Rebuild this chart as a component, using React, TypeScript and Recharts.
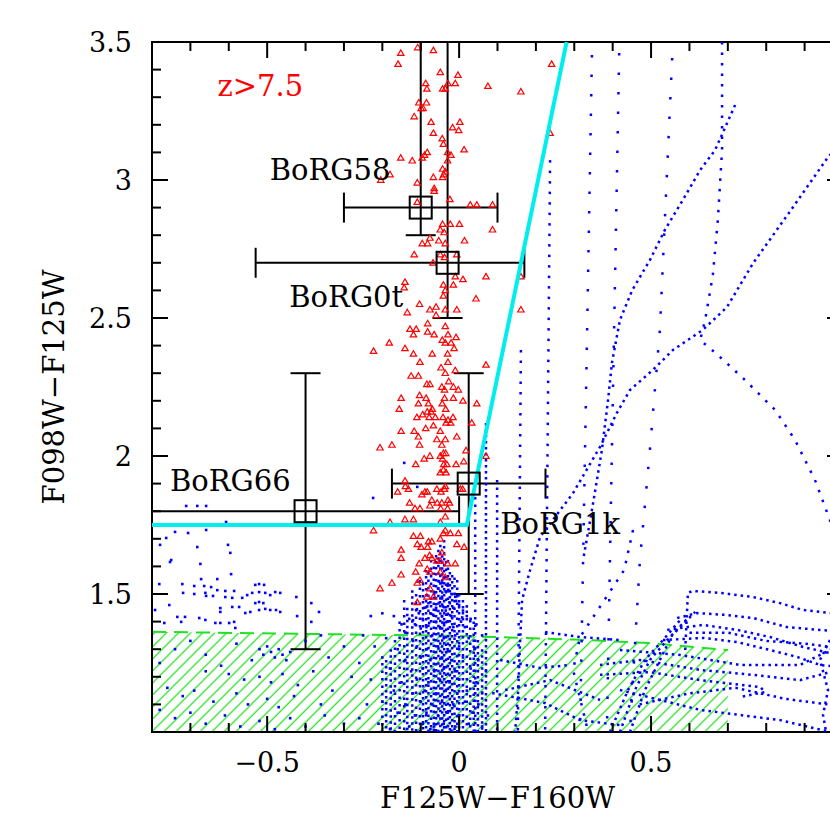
import React from "react";
import { Area, ComposedChart, ErrorBar, ReferenceArea, Scatter, XAxis, YAxis } from "recharts";

const FONT = "'DejaVu Serif', serif";
const BLUE = "#0000ff";
const RED = "#ff0000";
const CYAN = "#00eeee";
const GREEN = "#22e022";

const W = 860;
const H = 830;
const M = { top: 42, right: 17, bottom: 0, left: 0 };
const Y_AXIS_W = 152;
const X_AXIS_H = 98;
const PLOT_W = W - M.left - M.right - Y_AXIS_W;
const PLOT_H = H - M.top - M.bottom - X_AXIS_H;

const X_TICKS = [-0.8, -0.7, -0.6, -0.5, -0.4, -0.3, -0.2, -0.1, 0, 0.1, 0.2, 0.3, 0.4, 0.5, 0.6, 0.7, 0.8, 0.9, 1.0];
const Y_TICKS = [1.0, 1.1, 1.2, 1.3, 1.4, 1.5, 1.6, 1.7, 1.8, 1.9, 2.0, 2.1, 2.2, 2.3, 2.4, 2.5, 2.6, 2.7, 2.8, 2.9, 3.0, 3.1, 3.2, 3.3, 3.4, 3.5];

// contaminant region (hatched)
const HATCH_X = [-0.8, 0.0, 0.3, 0.5, 0.7];
const HATCH_TOP = [1.363, 1.348, 1.335, 1.322, 1.297];

// selection cut
const CUT = [[-0.8, 1.75], [0.02, 1.75], [0.28, 3.5]];

// candidates (errors run off the frame where the reference shows no cap)
const OBJ_X = [-0.10, -0.03, -0.40, 0.025];
const OBJ_Y = [2.90, 2.70, 1.80, 1.90];
const OBJ_XERR = [[0.2, 0.2], [0.5, 0.2], [0.4, 0.4], [0.2, 0.2]];
const OBJ_YERR = [[0.1, 0.6], [0.2, 0.8], [0.5, 0.5], [0.4, 0.4]];

const LABEL_TEXT = ["z>7.5", "BoRG58", "BoRG0t", "BoRG66", "BoRG1k"];
const LABEL_X = [-0.518, -0.336, -0.294, -0.596, 0.263];
const LABEL_Y = [3.341, 3.036, 2.576, 1.909, 1.754];

// simulated z>7.5 galaxies
const RED_TRI = [
  [-0.152, 3.46], [-0.108, 3.48], [-0.067, 3.47], [-0.159, 3.42], [-0.049, 3.39], [-0.003, 3.38], [-0.029, 3.35], [-0.01, 3.35],
  [0.075, 3.34], [0.161, 3.32], [-0.087, 3.35], [-0.084, 3.33], [-0.043, 3.33], [-0.036, 3.33], [-0.085, 3.28], [-0.105, 3.28],
  [-0.094, 3.26], [-0.099, 3.26], [-0.117, 3.23], [-0.073, 3.21], [0.002, 3.21], [-0.017, 3.19], [-0.001, 3.18], [-0.067, 3.17],
  [-0.044, 3.15], [-0.041, 3.13], [0.013, 3.11], [-0.083, 3.1], [-0.09, 3.09], [-0.096, 3.08], [-0.03, 3.1], [-0.021, 3.09],
  [-0.152, 3.08], [-0.122, 3.07], [-0.03, 3.07], [-0.043, 3.04], [-0.036, 3.03], [-0.04, 3.02], [-0.18, 3.02], [-0.067, 3.01],
  [-0.043, 3.01], [-0.109, 2.99], [-0.065, 2.97], [-0.065, 2.96], [-0.204, 3.0], [-0.109, 2.92], [-0.024, 2.93], [0.029, 2.91],
  [0.046, 2.91], [0.087, 2.91], [-0.043, 2.84], [-0.023, 2.84], [0.001, 2.84], [-0.049, 2.82], [-0.039, 2.81], [0.087, 2.82],
  [-0.076, 2.79], [-0.053, 2.78], [-0.096, 2.77], [-0.082, 2.77], [-0.036, 2.77], [0.014, 2.78], [-0.117, 2.73], [-0.049, 2.73],
  [-0.038, 2.72], [-0.006, 2.73], [-0.068, 2.7], [-0.01, 2.65], [0.01, 2.64], [0.07, 2.65], [0.161, 2.65], [-0.015, 2.62],
  [-0.041, 2.62], [-0.141, 2.63], [-0.143, 2.61], [-0.036, 2.6], [0.044, 2.57], [-0.041, 2.58], [-0.135, 2.52], [-0.103, 2.55],
  [-0.076, 2.53], [-0.06, 2.54], [-0.036, 2.53], [-0.006, 2.53], [-0.06, 2.51], [-0.082, 2.48], [-0.036, 2.47], [-0.128, 2.46],
  [-0.112, 2.46], [-0.119, 2.44], [-0.082, 2.45], [-0.065, 2.44], [-0.029, 2.44], [-0.008, 2.43], [-0.044, 2.42], [-0.036, 2.41],
  [-0.021, 2.41], [-0.013, 2.39], [-0.182, 2.41], [-0.223, 2.38], [-0.141, 2.39], [-0.119, 2.37], [-0.07, 2.37], [-0.03, 2.37],
  [-0.102, 2.34], [-0.029, 2.34], [-0.047, 2.32], [-0.036, 2.3], [-0.01, 2.31], [0.07, 2.33], [-0.125, 2.29], [-0.106, 2.29],
  [-0.027, 2.27], [-0.084, 2.26], [-0.076, 2.26], [-0.045, 2.25], [-0.038, 2.24], [-0.015, 2.25], [-0.002, 2.24], [-0.103, 2.22],
  [-0.038, 2.21], [-0.015, 2.21], [-0.151, 2.21], [-0.086, 2.21], [0.01, 2.2], [0.046, 2.19], [-0.106, 2.19], [-0.08, 2.19],
  [-0.07, 2.17], [-0.044, 2.19], [-0.035, 2.17], [-0.156, 2.17], [-0.095, 2.15], [-0.083, 2.16], [-0.073, 2.16], [-0.062, 2.14],
  [-0.11, 2.14], [-0.078, 2.14], [-0.042, 2.14], [-0.029, 2.13], [-0.016, 2.14], [-0.034, 2.12], [-0.022, 2.12], [-0.067, 2.11],
  [-0.087, 2.1], [0.033, 2.12], [-0.049, 2.09], [-0.151, 2.09], [-0.117, 2.09], [-0.106, 2.07], [-0.058, 2.06], [-0.036, 2.06],
  [-0.006, 2.07], [-0.175, 2.04], [-0.206, 2.03], [-0.103, 2.04], [-0.045, 2.04], [-0.041, 2.01], [-0.035, 2.01], [-0.076, 2.0],
  [-0.049, 2.0], [0.018, 2.02], [0.07, 2.0], [-0.091, 1.99], [-0.043, 1.99], [-0.113, 1.97], [-0.04, 1.97], [-0.032, 1.97],
  [-0.008, 1.97], [0.012, 1.98], [-0.049, 1.94], [-0.041, 1.95], [-0.034, 1.94], [-0.141, 1.91], [-0.132, 1.88], [-0.16, 1.87],
  [-0.14, 1.89], [-0.089, 1.87], [-0.083, 1.87], [-0.058, 1.88], [-0.047, 1.87], [-0.038, 1.88], [-0.036, 1.89], [0.003, 1.88],
  [0.009, 1.88], [-0.097, 1.86], [-0.129, 1.83], [-0.071, 1.84], [-0.057, 1.83], [-0.045, 1.83], [-0.029, 1.84], [-0.025, 1.83],
  [-0.076, 1.82], [-0.115, 1.81], [-0.102, 1.81], [-0.048, 1.81], [-0.03, 1.81], [-0.036, 1.78], [-0.141, 1.77], [-0.18, 1.76],
  [-0.223, 1.73], [-0.119, 1.77], [-0.049, 1.76], [-0.036, 1.73], [-0.041, 1.72], [-0.023, 1.72], [-0.002, 1.72], [-0.119, 1.71],
  [-0.101, 1.71], [-0.08, 1.69], [-0.071, 1.69], [-0.049, 1.7], [-0.109, 1.68], [-0.099, 1.67], [-0.082, 1.67], [-0.006, 1.68],
  [0.013, 1.67], [-0.045, 1.65], [-0.151, 1.66], [-0.077, 1.64], [-0.071, 1.63], [-0.089, 1.63], [-0.151, 1.63], [-0.049, 1.62],
  [-0.03, 1.61], [-0.01, 1.61], [-0.104, 1.61], [-0.058, 1.62], [-0.083, 1.59], [-0.076, 1.58], [-0.049, 1.58], [-0.151, 1.57],
  [-0.113, 1.58], [-0.036, 1.56], [-0.102, 1.55], [-0.175, 1.54], [-0.206, 1.52], [-0.109, 1.54], [-0.076, 1.52], [-0.084, 1.49],
  [-0.067, 1.49], [-0.109, 1.47], [0.241, 3.42], [0.237, 3.17], [0.161, 2.53],
];

// brown dwarfs / low-z contaminants, scattered points
const BLUE_CLOUD = [
  [-0.04, 1.56], [-0.045, 1.54], [-0.03, 1.53], [-0.055, 1.52], [-0.035, 1.51], [-0.02, 1.5], [-0.065, 1.5], [-0.045, 1.49],
  [-0.01, 1.49], [-0.075, 1.47], [-0.05, 1.47], [-0.025, 1.47], [0.0, 1.46], [-0.09, 1.45], [-0.06, 1.45], [-0.035, 1.44],
  [-0.015, 1.45], [0.01, 1.44], [-0.105, 1.43], [-0.075, 1.43], [-0.045, 1.42], [-0.02, 1.42], [0.02, 1.42], [-0.13, 1.41],
  [-0.095, 1.41], [-0.06, 1.4], [-0.03, 1.4], [0.005, 1.4], [0.03, 1.41], [-0.17, 1.42], [-0.2, 1.43], [-0.23, 1.42],
  [-0.15, 1.39], [-0.115, 1.39], [-0.085, 1.38], [-0.05, 1.38], [-0.015, 1.38], [0.015, 1.38], [0.045, 1.39],
  [-0.25, 1.35], [-0.19, 1.34], [-0.14, 1.36], [-0.12, 1.33], [-0.07, 1.35], [-0.04, 1.34], [-0.01, 1.35], [0.025, 1.34], [0.06, 1.35],
  [-0.22, 1.31], [-0.16, 1.3], [-0.11, 1.31], [-0.085, 1.3], [-0.055, 1.31], [-0.03, 1.3], [0.0, 1.31], [0.04, 1.3],
  [-0.2, 1.27], [-0.14, 1.26], [-0.1, 1.27], [-0.075, 1.26], [-0.045, 1.27], [-0.02, 1.26], [0.01, 1.27], [0.05, 1.26],
  [-0.18, 1.23], [-0.125, 1.22], [-0.095, 1.23], [-0.065, 1.22], [-0.04, 1.23], [-0.01, 1.22], [0.03, 1.23], [0.07, 1.22],
  [-0.23, 1.19], [-0.15, 1.18], [-0.11, 1.19], [-0.08, 1.18], [-0.05, 1.19], [-0.025, 1.18], [0.0, 1.19], [0.045, 1.18],
  [-0.17, 1.15], [-0.12, 1.14], [-0.09, 1.15], [-0.06, 1.14], [-0.035, 1.15], [-0.005, 1.14], [0.02, 1.15], [0.06, 1.14],
  [-0.2, 1.11], [-0.14, 1.1], [-0.1, 1.11], [-0.07, 1.1], [-0.045, 1.11], [-0.015, 1.1], [0.015, 1.11], [0.05, 1.1],
  [-0.16, 1.07], [-0.115, 1.06], [-0.085, 1.07], [-0.055, 1.06], [-0.03, 1.07], [0.0, 1.06], [0.035, 1.07], [0.075, 1.06],
  [-0.21, 1.03], [-0.13, 1.02], [-0.095, 1.03], [-0.065, 1.02], [-0.04, 1.03], [-0.01, 1.02], [0.025, 1.03], [0.06, 1.02],
  [-0.18, 1.01], [-0.075, 1.01], [-0.02, 1.005], [-0.224, 1.848], [-0.143, 1.975], [-0.109, 1.888],
  [-0.052, 1.545], [-0.028, 1.515], [-0.062, 1.485], [-0.008, 1.475], [-0.083, 1.455], [-0.042, 1.455], [-0.11, 1.445],
  [0.02, 1.455], [-0.068, 1.425], [-0.032, 1.425], [0.008, 1.415], [-0.12, 1.405], [-0.078, 1.395], [-0.04, 1.395], [-0.1, 1.375],
];

const BLUE_LEFT = [
  [-0.753, 1.616], [-0.674, 1.609], [-0.594, 1.572], [-0.63, 1.554], [-0.672, 1.554], [-0.721, 1.536], [-0.781, 1.536], [-0.69, 1.529],
  [-0.664, 1.529], [-0.646, 1.525], [-0.63, 1.514], [-0.609, 1.511], [-0.586, 1.511], [-0.719, 1.504], [-0.69, 1.5], [-0.661, 1.504],
  [-0.659, 1.493], [-0.641, 1.493], [-0.609, 1.489], [-0.591, 1.486], [-0.565, 1.486], [-0.552, 1.496], [-0.539, 1.504], [-0.531, 1.533],
  [-0.521, 1.536], [-0.508, 1.533], [-0.521, 1.507], [-0.505, 1.504], [-0.492, 1.496], [-0.479, 1.507], [-0.466, 1.504], [-0.424, 1.489],
  [-0.385, 1.467], [-0.365, 1.435], [-0.385, 1.399], [-0.422, 1.42], [-0.755, 1.46], [-0.792, 1.442], [-0.622, 1.449], [-0.622, 1.435],
  [-0.591, 1.453], [-0.573, 1.453], [-0.557, 1.431], [-0.544, 1.435], [-0.531, 1.467], [-0.521, 1.471], [-0.51, 1.467], [-0.521, 1.442],
  [-0.505, 1.446], [-0.492, 1.442], [-0.477, 1.442], [-0.466, 1.435], [-0.734, 1.417], [-0.714, 1.417], [-0.677, 1.413], [-0.661, 1.406],
  [-0.635, 1.395], [-0.622, 1.395], [-0.599, 1.395], [-0.586, 1.399], [-0.583, 1.377], [-0.768, 1.395], [-0.724, 1.399],
  [-0.682, 1.819], [-0.659, 1.819], [-0.711, 1.819], [-0.74, 1.725], [-0.706, 1.721], [-0.659, 1.732], [-0.682, 1.67], [-0.602, 1.678],
  [-0.596, 1.649], [-0.75, 1.623], [-0.763, 1.703], [-0.607, 1.761], [-0.779, 1.678],
  [-0.52, 1.3], [-0.5, 1.31], [-0.49, 1.29], [-0.47, 1.3], [-0.46, 1.28], [-0.51, 1.28], [-0.48, 1.27], [-0.44, 1.29], [-0.54, 1.26], [-0.45, 1.26],
  [-0.62, 1.24], [-0.66, 1.22], [-0.6, 1.21], [-0.56, 1.19], [-0.52, 1.2], [-0.49, 1.18], [-0.46, 1.21], [-0.42, 1.17], [-0.38, 1.22],
  [-0.76, 1.16], [-0.72, 1.13], [-0.69, 1.15], [-0.64, 1.11], [-0.58, 1.14], [-0.55, 1.1], [-0.5, 1.12], [-0.47, 1.09], [-0.43, 1.13],
  [-0.36, 1.1], [-0.33, 1.15], [-0.78, 1.08], [-0.74, 1.05], [-0.7, 1.07], [-0.66, 1.03], [-0.61, 1.06], [-0.57, 1.02], [-0.52, 1.04],
  [-0.48, 1.01], [-0.44, 1.05], [-0.4, 1.02], [-0.35, 1.06], [-0.3, 1.03], [-0.28, 1.2], [-0.3, 1.31], [-0.34, 1.27], [-0.26, 1.25],
  [-0.74, 1.3], [-0.7, 1.33], [-0.66, 1.28], [-0.78, 1.25], [-0.58, 1.32], [-0.4, 1.33], [-0.36, 1.35], [-0.24, 1.1], [-0.26, 1.05],
];

// vertical model columns in the contaminant cloud: [colour, top]
const CLOUD_COLUMNS = [
  [-0.143, 1.478], [-0.122, 1.514], [-0.102, 1.551], [-0.086, 1.587], [-0.073, 1.623], [-0.06, 1.641], [-0.049, 1.678], [-0.039, 1.696],
  [-0.029, 1.623], [-0.018, 1.569], [-0.005, 1.551], [0.01, 1.478], [0.029, 1.406], [0.049, 1.333], [-0.167, 1.333], [-0.19, 1.261],
  [0.042, 1.851], [0.07, 2.12], [0.099, 1.913],
  [-0.135, 1.45], [-0.112, 1.5], [-0.094, 1.54], [-0.08, 1.58], [-0.066, 1.6], [-0.054, 1.66], [-0.044, 1.64], [-0.034, 1.62],
  [-0.024, 1.58], [-0.012, 1.56], [0.0, 1.5], [0.02, 1.44], [0.038, 1.4], [-0.155, 1.4], [-0.178, 1.3], [-0.2, 1.25], [0.06, 1.3],
];

// stellar tracks, by dot spacing
const SPARSE_TRACKS = [
  [[0.346, 3.453], [0.328, 2.022], [0.315, 1.0]],
  [[0.417, 3.46], [0.398, 2.022], [0.385, 1.0]],
  [[0.555, 3.442], [0.523, 2.457], [0.497, 2.022], [0.471, 1.623], [0.445, 1.0]],
];

const MEDIUM_TRACKS = [
  [[0.161, 2.384], [0.153, 1.0]],
  [[0.237, 3.072], [0.224, 1.0]],
  [[0.685, 3.5], [0.685, 3.109], [0.674, 2.855], [0.661, 2.656], [0.641, 2.493], [0.628, 2.42], [0.674, 2.366], [0.745, 2.275],
    [0.823, 2.167], [0.875, 2.058], [0.927, 1.913], [0.966, 1.768], [1.005, 1.623]],
  [[0.453, 1.732], [0.43, 1.587], [0.315, 1.344], [0.297, 1.225], [0.333, 1.018]],
];

const DENSE_TRACKS = [
  [[0.719, 3.272], [0.667, 3.109], [0.628, 3.036], [0.583, 2.928], [0.536, 2.819], [0.497, 2.71], [0.451, 2.601], [0.419, 2.493],
    [0.398, 2.337], [0.388, 2.203], [0.372, 2.022], [0.346, 1.804], [0.323, 1.623]],
  [[1.005, 3.145], [0.961, 3.083], [0.87, 2.902], [0.766, 2.699], [0.698, 2.54], [0.635, 2.457], [0.557, 2.384], [0.505, 2.312],
    [0.445, 2.239], [0.411, 2.156], [0.367, 2.033], [0.297, 1.866], [0.211, 1.707], [0.185, 1.587], [0.164, 1.478], [0.159, 1.333],
    [0.154, 1.152], [0.146, 1.0]],
  [[0.589, 1.297], [0.596, 1.504], [0.609, 1.511], [0.68, 1.504], [0.766, 1.489], [0.836, 1.467], [0.896, 1.442], [0.966, 1.431], [1.018, 1.424]],
  [[0.568, 1.413], [0.62, 1.431], [0.698, 1.424], [0.766, 1.413], [0.854, 1.38], [0.94, 1.37], [1.018, 1.362]],
  [[0.542, 1.37], [0.635, 1.388], [0.724, 1.37], [0.81, 1.344], [0.896, 1.308], [0.966, 1.286], [1.018, 1.279]],
  [[0.531, 1.333], [0.635, 1.341], [0.724, 1.326], [0.81, 1.297], [0.88, 1.272], [0.94, 1.243], [1.018, 1.232]],
  [[0.393, 1.0], [0.44, 1.152], [0.484, 1.261], [0.531, 1.333], [0.576, 1.406]],
  [[0.419, 1.0], [0.458, 1.152], [0.497, 1.261], [0.542, 1.333], [0.596, 1.413]],
  [[0.445, 1.0], [0.484, 1.152], [0.523, 1.261], [0.555, 1.351], [0.615, 1.435]],
  [[0.367, 1.243], [0.471, 1.261], [0.628, 1.225], [0.766, 1.207], [0.888, 1.188], [0.966, 1.217], [1.018, 1.261]],
  [[0.367, 1.207], [0.497, 1.217], [0.628, 1.188], [0.784, 1.163], [0.797, 1.145], [0.732, 1.127]],
  [[0.419, 1.297], [0.576, 1.279], [0.732, 1.243], [0.888, 1.243], [0.966, 1.297], [1.018, 1.333]],
  [[0.966, 1.333], [0.94, 1.261], [0.961, 1.152], [0.948, 1.062], [0.956, 1.0]],
  [[0.419, 1.152], [0.628, 1.08], [0.836, 1.043], [0.966, 1.0]],
  [[0.224, 1.362], [0.315, 1.344], [0.419, 1.333]],
  [[0.086, 1.141], [0.224, 1.105], [0.315, 1.043], [0.419, 1.025]],
  [[0.107, 1.261], [0.211, 1.232], [0.289, 1.243]],
  [[0.12, 1.152], [0.237, 1.188], [0.367, 1.116]],
  [[0.6, 1.36], [0.7, 1.36], [0.8, 1.33], [0.9, 1.32], [1.018, 1.3]],
  [[0.47, 1.1], [0.6, 1.14], [0.72, 1.16], [0.85, 1.12], [0.96, 1.1]],
];

const pts = (rows: number[][]) => rows.map(([x, y]) => ({ x, y }));
const hatchData = HATCH_X.map((x, i) => ({ x, top: HATCH_TOP[i] }));
const objData = OBJ_X.map((x, i) => ({ x, y: OBJ_Y[i], xErr: OBJ_XERR[i], yErr: OBJ_YERR[i] }));
const labelData = LABEL_TEXT.map((text, i) => ({ x: LABEL_X[i], y: LABEL_Y[i], text }));
const columnLines = CLOUD_COLUMNS.map(([x, top]) => [[x, top], [x, 1.0]]);

const isMajor = (v: number) => Math.abs(v * 2 - Math.round(v * 2)) < 1e-6;
const fmt = (v: number) => String(Math.round(v * 10) / 10).replace("-", "\u2212");

function XTick(props: any) {
  const { x, y, payload } = props;
  const v = payload.value;
  const major = isMajor(v);
  const len = major ? 16 : 9;
  return (
    <g>
      <line x1={x} x2={x} y1={y} y2={y - len} stroke="#000" strokeWidth={2} />
      <line x1={x} x2={x} y1={y - PLOT_H} y2={y - PLOT_H + len} stroke="#000" strokeWidth={2} />
      {major && v < 0.99 && (
        <text x={x} y={y + 40} textAnchor="middle" fontFamily={FONT} fontSize={27} fill="#000">
          {fmt(v)}
        </text>
      )}
    </g>
  );
}

function YTick(props: any) {
  const { x, y, payload } = props;
  const v = payload.value;
  const major = isMajor(v);
  const len = major ? 16 : 9;
  return (
    <g>
      <line x1={x} x2={x + len} y1={y} y2={y} stroke="#000" strokeWidth={2} />
      <line x1={x + PLOT_W} x2={x + PLOT_W - len} y1={y} y2={y} stroke="#000" strokeWidth={2} />
      {major && v > 1.01 && (
        <text x={x - 20} y={y} dy={10} textAnchor="end" fontFamily={FONT} fontSize={27} fill="#000">
          {fmt(v)}
        </text>
      )}
    </g>
  );
}

function XTitle({ viewBox }: any) {
  const { x, y, width } = viewBox;
  return (
    <text x={x + width / 2} y={y + 76} textAnchor="middle" fontFamily={FONT} fontSize={29} fill="#000">
      F125W{"\u2212"}F160W
    </text>
  );
}

function YTitle({ viewBox }: any) {
  const { y, height } = viewBox;
  const cx = 64;
  const cy = y + height / 2;
  return (
    <text x={cx} y={cy} transform={`rotate(-90 ${cx} ${cy})`} textAnchor="middle" fontFamily={FONT} fontSize={29} fill="#000">
      F098W{"\u2212"}F125W
    </text>
  );
}

const Nothing = () => <g />;

function Dot(props: any) {
  const { cx, cy } = props;
  return <rect x={cx - 1.3} y={cy - 1.3} width={2.6} height={2.6} fill={BLUE} />;
}

function Tri(props: any) {
  const { cx, cy } = props;
  return <path d={`M${cx},${cy - 3.2} L${cx + 3.2},${cy + 2.3} L${cx - 3.2},${cy + 2.3} Z`} fill="none" stroke={RED} strokeWidth={1.2} />;
}

function Box(props: any) {
  const { cx, cy } = props;
  return <rect x={cx - 11} y={cy - 11} width={22} height={22} fill="none" stroke="#000" strokeWidth={2} />;
}

function Tag(props: any) {
  const { cx, cy, payload } = props;
  return (
    <text x={cx} y={cy} dy={10} textAnchor="middle" fontFamily={FONT} fontSize={29} fill={payload.text === "z>7.5" ? RED : "#000"}>
      {payload.text}
    </text>
  );
}

function track(rows: number[][], gap: number, key: string) {
  return (
    <Scatter
      key={key}
      data={pts(rows)}
      fill={BLUE}
      shape={Nothing}
      line={{ stroke: BLUE, strokeWidth: 2.5, strokeDasharray: `2.5 ${gap}` }}
      isAnimationActive={false}
      legendType="none"
    />
  );
}

export default function App() {
  return (
    <div style={{ position: "fixed", left: 0, top: 0, width: 830, height: 830, overflow: "hidden", background: "#fff" }}>
      <ComposedChart width={W} height={H} data={hatchData} margin={M}>
        <defs>
          <pattern id="hatch" patternUnits="userSpaceOnUse" width={8.5} height={8.5} patternTransform="rotate(45)">
            <line x1={4.25} y1={0} x2={4.25} y2={8.5} stroke={GREEN} strokeWidth={1.3} />
          </pattern>
        </defs>
        <XAxis
          type="number"
          dataKey="x"
          domain={[-0.8, 1.0]}
          allowDataOverflow
          ticks={X_TICKS}
          interval={0}
          height={X_AXIS_H}
          tickLine={false}
          tickSize={0}
          tickMargin={0}
          axisLine={{ stroke: "#000", strokeWidth: 2 }}
          tick={<XTick />}
          label={<XTitle />}
        />
        <YAxis
          type="number"
          dataKey="y"
          domain={[1.0, 3.5]}
          allowDataOverflow
          ticks={Y_TICKS}
          interval={0}
          width={Y_AXIS_W}
          tickLine={false}
          tickSize={0}
          tickMargin={0}
          axisLine={{ stroke: "#000", strokeWidth: 2 }}
          tick={<YTick />}
          label={<YTitle />}
        />
        <Area
          dataKey="top"
          type="linear"
          baseValue={1}
          fill="url(#hatch)"
          fillOpacity={1}
          stroke={GREEN}
          strokeWidth={2}
          strokeDasharray="14 8"
          isAnimationActive={false}
          dot={false}
          activeDot={false}
        />
        {columnLines.map((rows, i) => track(rows, i % 2 ? 3.5 : 5, `c${i}`))}
        {SPARSE_TRACKS.map((rows, i) => track(rows, 17, `s${i}`))}
        {MEDIUM_TRACKS.map((rows, i) => track(rows, 8, `m${i}`))}
        {DENSE_TRACKS.map((rows, i) => track(rows, 4, `d${i}`))}
        <Scatter data={pts(BLUE_CLOUD)} shape={Dot} fill={BLUE} isAnimationActive={false} />
        <Scatter data={pts(BLUE_LEFT)} shape={Dot} fill={BLUE} isAnimationActive={false} />
        <Scatter data={pts(RED_TRI)} shape={Tri} fill={RED} isAnimationActive={false} />
        <Scatter
          data={pts(CUT)}
          fill={CYAN}
          shape={Nothing}
          line={{ stroke: CYAN, strokeWidth: 4 }}
          isAnimationActive={false}
        />
        <Scatter data={objData} shape={Box} fill="#000" isAnimationActive={false}>
          <ErrorBar dataKey="xErr" direction="x" width={15} stroke="#000" strokeWidth={2} />
          <ErrorBar dataKey="yErr" direction="y" width={15} stroke="#000" strokeWidth={2} />
        </Scatter>
        <Scatter data={labelData} shape={Tag} fill="#000" isAnimationActive={false} />
        <ReferenceArea x1={-0.8} x2={1.0} y1={1.0} y2={3.5} fill="none" stroke="#000" strokeWidth={2} ifOverflow="visible" />
      </ComposedChart>
    </div>
  );
}
